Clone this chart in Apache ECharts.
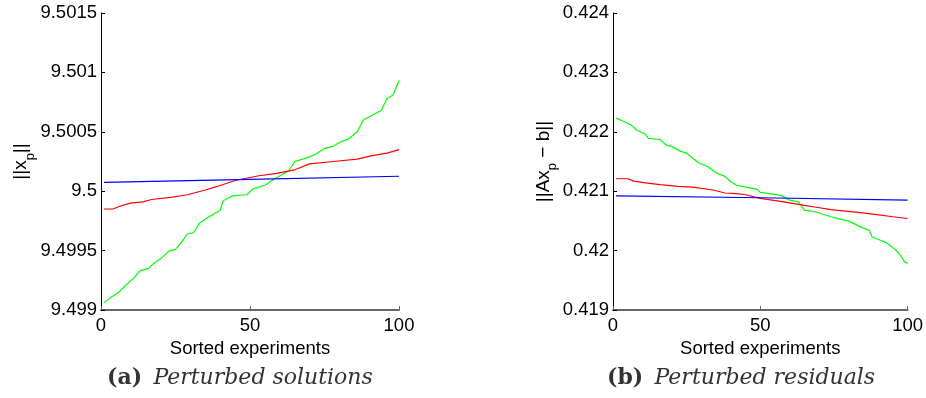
<!DOCTYPE html>
<html>
<head>
<meta charset="utf-8">
<script src="https://cdn.jsdelivr.net/npm/echarts@6/dist/echarts.min.js"></script>
<style>
  html, body { margin: 0; padding: 0; background: #fff; }
  #chart { width: 926px; height: 398px; }
</style>
</head>
<body>
<div id="chart"></div>
<script>
// (a) Perturbed solutions: ||x_p|| for each sorted experiment
const solGreenX = [1, 3, 6, 8, 11, 13, 16, 18, 20, 23, 25, 27, 29, 31, 33, 36, 38, 40, 41, 44, 49, 51, 55, 58, 63, 65, 69, 72, 75, 78, 80, 83, 86, 88, 91, 94, 96, 98, 100];
const solGreenY = [9.49906, 9.49910, 9.49915, 9.49920, 9.49927, 9.49933, 9.49935, 9.49940, 9.49943, 9.49950, 9.49951, 9.49957, 9.49964, 9.49965, 9.49973, 9.49978, 9.49981, 9.49984, 9.49992, 9.49996, 9.49997, 9.50002, 9.50005, 9.50010, 9.50017, 9.50025, 9.50028, 9.50031, 9.50036, 9.50038, 9.50041, 9.50044, 9.50050, 9.50060, 9.50064, 9.50068, 9.50078, 9.50081, 9.50093];
const solRedX = [1, 4, 7, 10, 14, 17, 24, 29, 35, 39, 45, 53, 59, 65, 70, 78, 86, 91, 96, 100];
const solRedY = [9.49985, 9.49985, 9.49988, 9.49990, 9.49991, 9.49993, 9.49995, 9.49997, 9.50001, 9.50004, 9.50009, 9.50013, 9.50015, 9.50018, 9.50023, 9.50025, 9.50027, 9.50030, 9.50032, 9.50035];
const solBlueX = [1, 50, 100];
const solBlueY = [9.500075, 9.500100, 9.500126];
const solTicks = ['9.499', '9.4995', '9.5', '9.5005', '9.501', '9.5015'];

// (b) Perturbed residuals: ||Ax_p - b|| for each sorted experiment
const resGreenX = [1, 3, 6, 8, 11, 12, 16, 18, 20, 23, 25, 29, 32, 35, 38, 40, 42, 46, 49, 50, 53, 57, 60, 63, 65, 69, 74, 77, 80, 84, 87, 88, 91, 93, 96, 97, 99, 100];
const resGreenY = [0.42223, 0.42219, 0.42212, 0.42203, 0.42196, 0.42189, 0.42187, 0.42178, 0.42175, 0.42167, 0.42164, 0.42148, 0.42142, 0.42131, 0.42125, 0.42116, 0.42110, 0.42106, 0.42103, 0.42098, 0.42096, 0.42093, 0.42085, 0.42082, 0.42068, 0.42065, 0.42057, 0.42053, 0.42050, 0.42040, 0.42034, 0.42023, 0.42017, 0.42013, 0.42001, 0.41996, 0.41981, 0.41979];
const resRedX = [1, 5, 7, 11, 16, 22, 27, 34, 38, 42, 45, 50, 58, 65, 69, 74, 78, 84, 89, 95, 100];
const resRedY = [0.42121, 0.42121, 0.42117, 0.42114, 0.42111, 0.42108, 0.42107, 0.42102, 0.42097, 0.42096, 0.42094, 0.42088, 0.42082, 0.42076, 0.42073, 0.42069, 0.42067, 0.42064, 0.42061, 0.42057, 0.42054];
const resBlueX = [1, 50, 100];
const resBlueY = [0.42092, 0.42089, 0.42085];
const resTicks = ['0.419', '0.42', '0.421', '0.422', '0.423', '0.424'];

const xTicks = ['0', '50', '100'];

const zip = (xs, ys) => xs.map((x, i) => [x, ys[i]]);

const FONT = 'Liberation Sans';
const labelText = { color: '#000', fontFamily: FONT, fontSize: 18.5 };

function xAxisFor(gridIndex) {
  return {
    type: 'value', gridIndex, min: 0, max: 100, interval: 50,
    name: 'Sorted experiments', nameLocation: 'middle', nameGap: 21,
    nameTextStyle: labelText,
    axisLine: { lineStyle: { color: '#666', width: 2 } },
    axisTick: { inside: true, length: 4, lineStyle: { color: '#666', width: 1 } },
    axisLabel: Object.assign({ margin: 6, formatter: v => xTicks[Math.round(v / 50)] }, labelText),
    splitLine: { show: false }
  };
}

function yAxisFor(gridIndex, min, max, interval, ticks, name, gap) {
  return {
    type: 'value', gridIndex, min, max, interval,
    name, nameLocation: 'middle', nameGap: gap, nameRotate: 90,
    nameTextStyle: {
      color: '#000', fontFamily: FONT, fontSize: 19,
      rich: {
        n: { color: '#000', fontFamily: FONT, fontSize: 19, lineHeight: 28, verticalAlign: 'bottom' },
        s: { color: '#000', fontFamily: FONT, fontSize: 13, lineHeight: 18, verticalAlign: 'bottom', padding: [0, 0, -6, 0] }
      }
    },
    axisLine: { lineStyle: { color: '#000', width: 1 } },
    axisTick: { inside: true, length: 4, lineStyle: { color: '#000', width: 1 } },
    axisLabel: Object.assign({ margin: 4, formatter: v => ticks[Math.round((v - min) / interval)] }, labelText),
    splitLine: { show: false }
  };
}

function line(xi, yi, xs, ys, color) {
  return {
    type: 'line', xAxisIndex: xi, yAxisIndex: yi, data: zip(xs, ys),
    showSymbol: false, symbol: 'none', silent: true,
    lineStyle: { color, width: 1.2 }
  };
}

const captionRich = {
  b: { fontFamily: 'DejaVu Serif', fontWeight: 'bold', fontSize: 22, fill: '#333', padding: [0, 8, 0, 0] },
  i: { fontFamily: 'DejaVu Serif', fontStyle: 'italic', fontSize: 22, fill: '#333' }
};

const chart = echarts.init(document.getElementById('chart'), null, { renderer: 'canvas' });
chart.setOption({
  backgroundColor: '#fff',
  animation: false,
  grid: [
    { left: 101, top: 13, width: 298, height: 297 },
    { left: 613, top: 13, width: 299, height: 297 }
  ],
  xAxis: [xAxisFor(0), xAxisFor(1)],
  yAxis: [
    yAxisFor(0, 9.499, 9.5015, 0.0005, solTicks, '{n|||x}{s|p}{n|||}', 66),
    yAxisFor(1, 0.419, 0.424, 0.001, resTicks, '{n|||Ax}{s|p}{n| − b||}', 58)
  ],
  series: [
    line(0, 0, solGreenX, solGreenY, '#00ff00'),
    line(0, 0, solRedX, solRedY, '#ff0000'),
    line(0, 0, solBlueX, solBlueY, '#0000ff'),
    line(1, 1, resGreenX, resGreenY, '#00ff00'),
    line(1, 1, resRedX, resRedY, '#ff0000'),
    line(1, 1, resBlueX, resBlueY, '#0000ff')
  ],
  graphic: [
    {
      type: 'text', left: 107, top: 367,
      style: { text: '{b|(a)} {i|Perturbed solutions}', rich: captionRich }
    },
    {
      type: 'text', left: 607, top: 367,
      style: { text: '{b|(b)} {i|Perturbed residuals}', rich: captionRich }
    }
  ]
});
</script>
</body>
</html>
